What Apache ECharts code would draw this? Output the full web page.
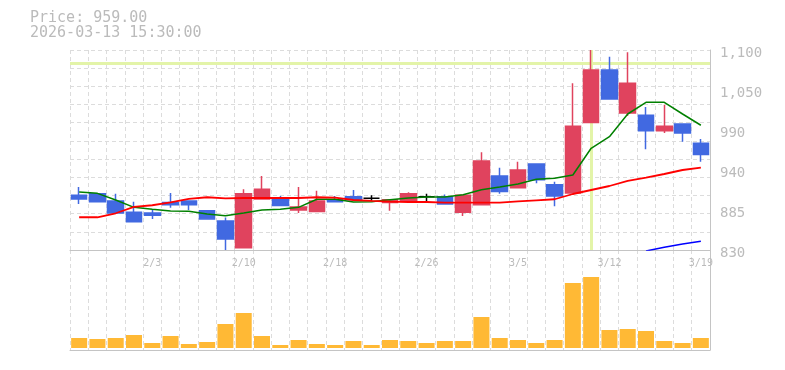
<!DOCTYPE html>
<html><head><meta charset="utf-8">
<script src="https://cdn.jsdelivr.net/npm/echarts@6/dist/echarts.min.js"></script>
<style>html,body{margin:0;padding:0;background:#fff}#c{width:785px;height:370px}</style>
</head><body><div id="c"></div>
<script>
const dates = ['1/28','1/29','1/30','2/2','2/3','2/4','2/5','2/6','2/9','2/10','2/12','2/13','2/16','2/17','2/18','2/19','2/20','2/24','2/25','2/26','2/27','3/2','3/3','3/4','3/5','3/6','3/9','3/10','3/11','3/12','3/13','3/16','3/17','3/18','3/19'];
const tickDates = ['2/3','2/10','2/18','2/26','3/5','3/12','3/19'];
const openP  = [904,906,896,881,880,894,896,883,869,833,899,898,884,882,898,902,900,894,897,902,902,881,891,930,914,946,918,907,1002,1073,1015,1012,991,1000,974];
const highP  = [915,906,906,895,884,907,896,883,874,912,930,903,915,910,903,911,904,899,908,906,905,904,962,941,949,946,922,1055,1100,1091,1097,1023,1026,1000,980];
const lowP   = [892,894,879,868,872,887,884,872,830,832,899,890,880,882,895,898,896,883,897,895,892,876,891,906,914,920,889,907,1002,1034,1011,966,988,976,949];
const closeP = [899,895,880,868,877,891,891,872,845,906,912,890,888,896,895,898,900,898,906,902,892,904,950,909,938,925,903,997,1073,1034,1055,991,997,988,959];
const ma5  = [908.3,906.5,897.5,887.6,885.0,882.7,882.3,878.6,876.3,880.0,884.0,885.0,887.6,898.5,898.5,894.8,895.2,898.0,900.2,901.6,901.6,904.7,911.4,915.1,919.1,925.5,926.8,931.3,967.3,983.0,1013.6,1029.4,1029.4,1013.6,998.4];
const ma25 = [874.2,874.2,879.6,888.1,890.4,894.4,898.9,901.2,899.8,900.2,900.2,900.2,900.2,901.2,900.6,897.5,896.2,895.2,894.8,894.8,893.9,893.9,893.9,893.9,895.7,897.1,898.5,905.6,911.0,916.4,923.2,927.6,932.6,938.0,941.1];
const ma75 = [null,null,null,null,null,null,null,null,null,null,null,null,null,null,null,null,null,null,null,null,null,null,null,null,null,null,null,null,null,null,null,828.7,833.6,838.1,841.7];
const volume = [100,90,100,130,50,120,40,60,240,350,120,30,80,40,30,70,30,80,70,50,70,70,310,100,80,50,80,650,710,180,190,170,70,50,100];
const priceTicks = ['830','885','940','990','1,050','1,100'];
const crossDate = '3/11';
const crossPrice = 1082;
const headerPrice = 'Price: 959.00';
const headerTime = '2026-03-13 15:30:00';

const MONO = '"DejaVu Sans Mono", monospace';
const GRIDC = '#dcdcdc';
const AXC = '#c4c4c4';
const TXT = '#bbbbbb';

const ohlc = dates.map((d,i)=>[openP[i], closeP[i], lowP[i], highP[i]]);

const chart = echarts.init(document.getElementById('c'), null, {renderer:'canvas'});
chart.setOption({
  animation:false,
  backgroundColor:'#fff',
  graphic:[
    {type:'text', x:30, y:18, style:{text:headerPrice, font:'15px '+MONO, fill:TXT, verticalAlign:'middle'}},
    {type:'text', x:30, y:33, style:{text:headerTime, font:'15px '+MONO, fill:TXT, verticalAlign:'middle'}}
  ],
  grid:[
    {left:70, right:75, top:50, height:200},
    {left:70, right:75, top:250, height:100}
  ],
  xAxis:[
    {type:'category', gridIndex:0, data:dates, boundaryGap:true,
     axisLine:{show:true, onZero:false, lineStyle:{color:AXC, width:1}},
     axisTick:{show:false},
     axisLabel:{show:true, interval:(i)=>tickDates.includes(dates[i]), color:TXT, fontFamily:MONO, fontSize:10, margin:8},
     splitLine:{show:true, interval:0, lineStyle:{color:GRIDC, type:[4,3], width:1}}},
    {type:'category', gridIndex:1, data:dates, boundaryGap:true,
     axisLine:{show:true, onZero:false, lineStyle:{color:AXC, width:1}},
     axisTick:{show:false}, axisLabel:{show:false},
     splitLine:{show:true, interval:0, lineStyle:{color:GRIDC, type:[4,3], width:1}}}
  ],
  yAxis:[
    {type:'value', gridIndex:0, position:'right', min:830, max:1100, interval:54,
     axisLine:{show:true, lineStyle:{color:AXC, width:1}},
     axisTick:{show:false},
     axisLabel:{color:TXT, fontFamily:MONO, fontSize:14, margin:10, verticalAlign:'top', lineHeight:7,
       formatter:(v)=>{const k=Math.round((v-830)/54); return priceTicks[k]||'';}},
     splitLine:{show:false}},
    {type:'value', gridIndex:0, position:'left', min:0, max:11, interval:1,
     axisLine:{show:false}, axisTick:{show:false}, axisLabel:{show:false},
     splitLine:{show:true, lineStyle:{color:GRIDC, type:[4,3], width:1}}},
    {type:'value', gridIndex:1, position:'right', min:-20, max:980,
     axisLine:{show:true, lineStyle:{color:AXC, width:1}},
     axisTick:{show:false}, axisLabel:{show:false}, splitLine:{show:false}}
  ],
  series:[
    {type:'line', xAxisIndex:0, yAxisIndex:0, data:[], z:1, silent:true,
     markLine:{z:1, silent:true, symbol:['none','none'], label:{show:false},
       lineStyle:{color:'#e3f4a8', width:3, type:'solid'},
       data:[{xAxis:crossDate},{yAxis:crossPrice}]}},
    {type:'candlestick', xAxisIndex:0, yAxisIndex:0, data:ohlc, barWidth:16, z:3,
     itemStyle:{color:'#e0435e', color0:'#4169e1', borderColor:'#e0435e', borderColor0:'#4169e1', borderColorDoji:'#000', borderWidth:1.5}},
    {type:'line', xAxisIndex:0, yAxisIndex:0, data:ma5, symbol:'none', z:4, lineStyle:{color:'#008000', width:1.5}},
    {type:'line', xAxisIndex:0, yAxisIndex:0, data:ma25, symbol:'none', z:4, lineStyle:{color:'#ff0000', width:1.8}},
    {type:'line', xAxisIndex:0, yAxisIndex:0, data:ma75, symbol:'none', z:4, lineStyle:{color:'#0000ff', width:1.5}},
    {type:'bar', xAxisIndex:1, yAxisIndex:2, data:volume, barWidth:16, itemStyle:{color:'#ffb935'}}
  ]
});
</script></body></html>
